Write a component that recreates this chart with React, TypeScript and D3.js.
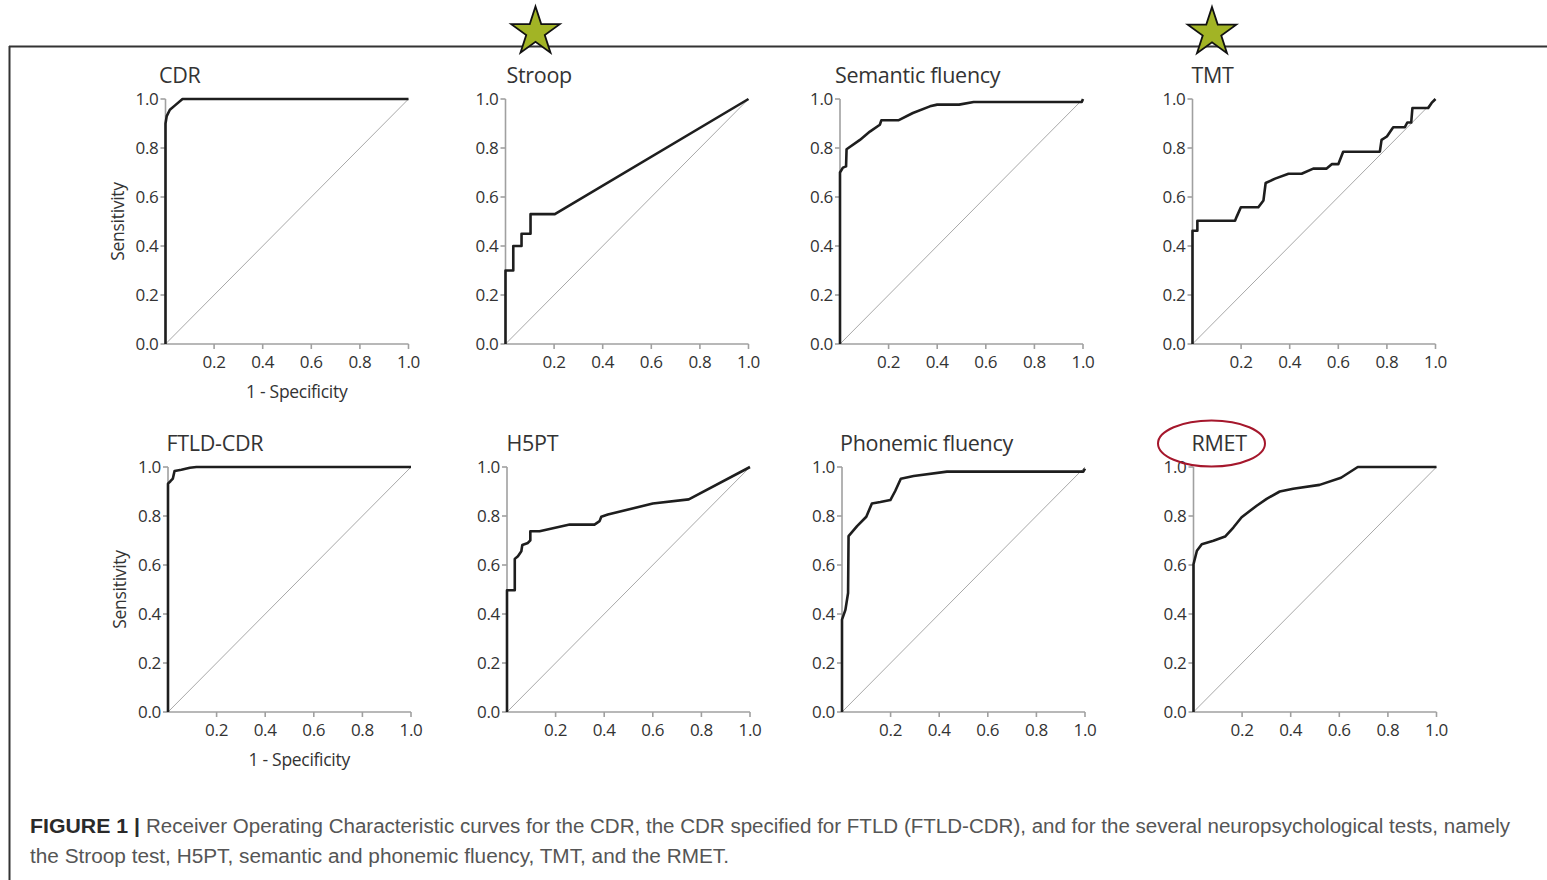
import React from "react";
import * as d3 from "d3";

// ROC curves: false positive rate (1 - specificity) and sensitivity
const cdrFpr = [0, 0, 0.005, 0.018, 0.038, 0.07, 1];
const cdrTpr = [0, 0.9, 0.93, 0.956, 0.973, 1, 1];

const stroopFpr = [0, 0, 0.032, 0.032, 0.066, 0.066, 0.103, 0.103, 0.203, 1];
const stroopTpr = [0, 0.3, 0.3, 0.4, 0.4, 0.45, 0.45, 0.53, 0.53, 1];

const semanticFpr = [0, 0, 0.012, 0.025, 0.027, 0.082, 0.123, 0.164, 0.17, 0.24, 0.3, 0.37, 0.4, 0.49, 0.55, 0.995, 1];
const semanticTpr = [0, 0.7, 0.72, 0.725, 0.795, 0.833, 0.867, 0.895, 0.913, 0.913, 0.943, 0.97, 0.977, 0.977, 0.988, 0.988, 1];

const tmtFpr = [0, 0, 0.02, 0.02, 0.175, 0.182, 0.199, 0.271, 0.292, 0.301, 0.34, 0.395, 0.449, 0.497, 0.552, 0.573, 0.6, 0.62, 0.771, 0.778, 0.8, 0.826, 0.874, 0.884, 0.9, 0.905, 0.97, 0.984, 1];
const tmtTpr = [0, 0.462, 0.462, 0.503, 0.503, 0.52, 0.558, 0.558, 0.586, 0.657, 0.675, 0.695, 0.695, 0.716, 0.716, 0.734, 0.734, 0.785, 0.785, 0.833, 0.847, 0.885, 0.885, 0.904, 0.904, 0.963, 0.963, 0.984, 1];

const ftldFpr = [0, 0, 0.01, 0.02, 0.027, 0.055, 0.09, 0.117, 1];
const ftldTpr = [0, 0.932, 0.942, 0.953, 0.984, 0.989, 0.997, 1, 1];

const h5ptFpr = [0, 0, 0.032, 0.032, 0.045, 0.059, 0.063, 0.086, 0.096, 0.096, 0.134, 0.258, 0.36, 0.381, 0.388, 0.415, 0.6, 0.748, 1];
const h5ptTpr = [0, 0.497, 0.497, 0.625, 0.636, 0.656, 0.682, 0.69, 0.701, 0.738, 0.738, 0.765, 0.765, 0.779, 0.797, 0.806, 0.851, 0.868, 1];

const phonemicFpr = [0, 0, 0.014, 0.025, 0.027, 0.062, 0.1, 0.123, 0.158, 0.199, 0.219, 0.242, 0.295, 0.432, 0.993, 1];
const phonemicTpr = [0, 0.377, 0.417, 0.486, 0.718, 0.759, 0.797, 0.851, 0.857, 0.865, 0.902, 0.952, 0.963, 0.981, 0.981, 0.993];

const rmetFpr = [0, 0, 0.014, 0.034, 0.082, 0.13, 0.164, 0.198, 0.26, 0.301, 0.355, 0.41, 0.519, 0.607, 0.676, 1];
const rmetTpr = [0, 0.603, 0.658, 0.685, 0.699, 0.716, 0.753, 0.795, 0.842, 0.87, 0.9, 0.911, 0.927, 0.956, 1, 1];

const yTicks = [0, 0.2, 0.4, 0.6, 0.8, 1.0];
const xTicks = [0.2, 0.4, 0.6, 0.8, 1.0];

const panels = [
  {title: "CDR", fpr: cdrFpr, tpr: cdrTpr, left: 165.5, top: 99, titleDx: -6.5, labels: true},
  {title: "Stroop", fpr: stroopFpr, tpr: stroopTpr, left: 505.5, top: 99, titleDx: 1, labels: false},
  {title: "Semantic fluency", fpr: semanticFpr, tpr: semanticTpr, left: 840, top: 99, titleDx: -5, labels: false},
  {title: "TMT", fpr: tmtFpr, tpr: tmtTpr, left: 1192.5, top: 99, titleDx: -1, labels: false},
  {title: "FTLD-CDR", fpr: ftldFpr, tpr: ftldTpr, left: 168, top: 467, titleDx: -1.5, labels: true},
  {title: "H5PT", fpr: h5ptFpr, tpr: h5ptTpr, left: 507, top: 467, titleDx: -0.5, labels: false},
  {title: "Phonemic fluency", fpr: phonemicFpr, tpr: phonemicTpr, left: 842, top: 467, titleDx: -2, labels: false},
  {title: "RMET", fpr: rmetFpr, tpr: rmetTpr, left: 1193.5, top: 467, titleDx: -2, labels: false},
];

const W = 243;
const H = 245;
const font = "'Open Sans', 'Noto Sans', sans-serif";
const textCol = "#333";
const axisCol = "#a0a0a0";

const starPoints = (cx, cy, r) => {
  const inner = r * 0.382;
  const pts = [];
  for (let i = 0; i < 10; i++) {
    const rr = i % 2 === 0 ? r : inner;
    const a = -Math.PI / 2 + (i * Math.PI) / 5;
    pts.push(`${cx + rr * Math.cos(a)},${cy + rr * Math.sin(a)}`);
  }
  return pts.join(" ");
};

const Panel = ({p}) => {
  const x = d3.scaleLinear().domain([0, 1]).range([p.left, p.left + W]);
  const y = d3.scaleLinear().domain([0, 1]).range([p.top + H, p.top]);
  const pts = p.fpr.map((f, i) => [f, p.tpr[i]]);
  const line = d3.line().x(d => x(d[0])).y(d => y(d[1]));
  const fmt = d3.format(".1f");
  const bottom = y(0);

  return (
    <g>
      <text x={p.left + p.titleDx} y={p.top - 16} fontFamily={font} fontSize={21.5} letterSpacing={-0.3} fill={textCol}>{p.title}</text>
      {/* diagonal reference */}
      <line x1={x(0)} y1={y(0)} x2={x(1)} y2={y(1)} stroke="#a8a8a8" strokeWidth={1}/>
      {/* axes */}
      <line x1={x(0)} y1={y(0)} x2={x(0)} y2={y(1)} stroke={axisCol} strokeWidth={1.6}/>
      <line x1={x(0)} y1={y(0)} x2={x(1)} y2={y(0)} stroke={axisCol} strokeWidth={1.6}/>
      {yTicks.map(t => (
        <g key={"y" + t}>
          <line x1={x(0) - 5} x2={x(0)} y1={y(t)} y2={y(t)} stroke={axisCol} strokeWidth={1.6}/>
          <text x={x(0) - 7} y={y(t) + 6} textAnchor="end" fontFamily={font} fontSize={17} letterSpacing={-0.3} fill={textCol}>{fmt(t)}</text>
        </g>
      ))}
      {xTicks.map(t => (
        <g key={"x" + t}>
          <line x1={x(t)} x2={x(t)} y1={bottom} y2={bottom + 5} stroke={axisCol} strokeWidth={1.6}/>
          <text x={x(t)} y={bottom + 23.5} textAnchor="middle" fontFamily={font} fontSize={17} letterSpacing={-0.3} fill={textCol}>{fmt(t)}</text>
        </g>
      ))}
      <path d={line(pts)} fill="none" stroke="#1e1e1e" strokeWidth={2.6} strokeLinejoin="round"/>
      {p.labels && (
        <g>
          <text transform={`translate(${x(0) - 42},${y(0.5)}) rotate(-90)`} textAnchor="middle" fontFamily={font} fontSize={17.5} letterSpacing={-0.3} fill={textCol}>Sensitivity</text>
          <text x={x(0.54)} y={bottom + 54} textAnchor="middle" fontFamily={font} fontSize={17.5} letterSpacing={-0.3} fill={textCol}>1 - Specificity</text>
        </g>
      )}
    </g>
  );
};

export default function App() {
  const capFont = "'Liberation Sans', Arial, sans-serif";
  return (
    <svg width={1547} height={880} style={{position: "absolute", left: 0, top: 0, background: "#fff"}}>
      <rect x={0} y={0} width={1547} height={880} fill="#fff"/>
      <line x1={9} y1={46.5} x2={1547} y2={46.5} stroke="#333" strokeWidth={2}/>
      <line x1={9.5} y1={46} x2={9.5} y2={880} stroke="#333" strokeWidth={2}/>
      <polygon points={starPoints(535.5, 32, 25.5)} fill="#a2b425" stroke="#111" strokeWidth={1.8} strokeLinejoin="miter"/>
      <polygon points={starPoints(1212, 32.5, 25.5)} fill="#a2b425" stroke="#111" strokeWidth={1.8} strokeLinejoin="miter"/>
      {panels.map(p => <Panel key={p.title} p={p}/>)}
      <ellipse cx={1211.5} cy={443.5} rx={53.5} ry={23} fill="none" stroke="#a5172c" strokeWidth={2}/>
      <text x={30} y={833} fontFamily={capFont} fontSize={19.5} fontWeight="bold" fill="#2a2a2a" textLength={110} lengthAdjust="spacingAndGlyphs">FIGURE 1 |</text>
      <text x={146} y={833} fontFamily={capFont} fontSize={19.5} fill="#555" textLength={1364} lengthAdjust="spacingAndGlyphs">Receiver Operating Characteristic curves for the CDR, the CDR specified for FTLD (FTLD-CDR), and for the several neuropsychological tests, namely</text>
      <text x={30} y={863} fontFamily={capFont} fontSize={19.5} fill="#555" textLength={699} lengthAdjust="spacingAndGlyphs">the Stroop test, H5PT, semantic and phonemic fluency, TMT, and the RMET.</text>
    </svg>
  );
}
